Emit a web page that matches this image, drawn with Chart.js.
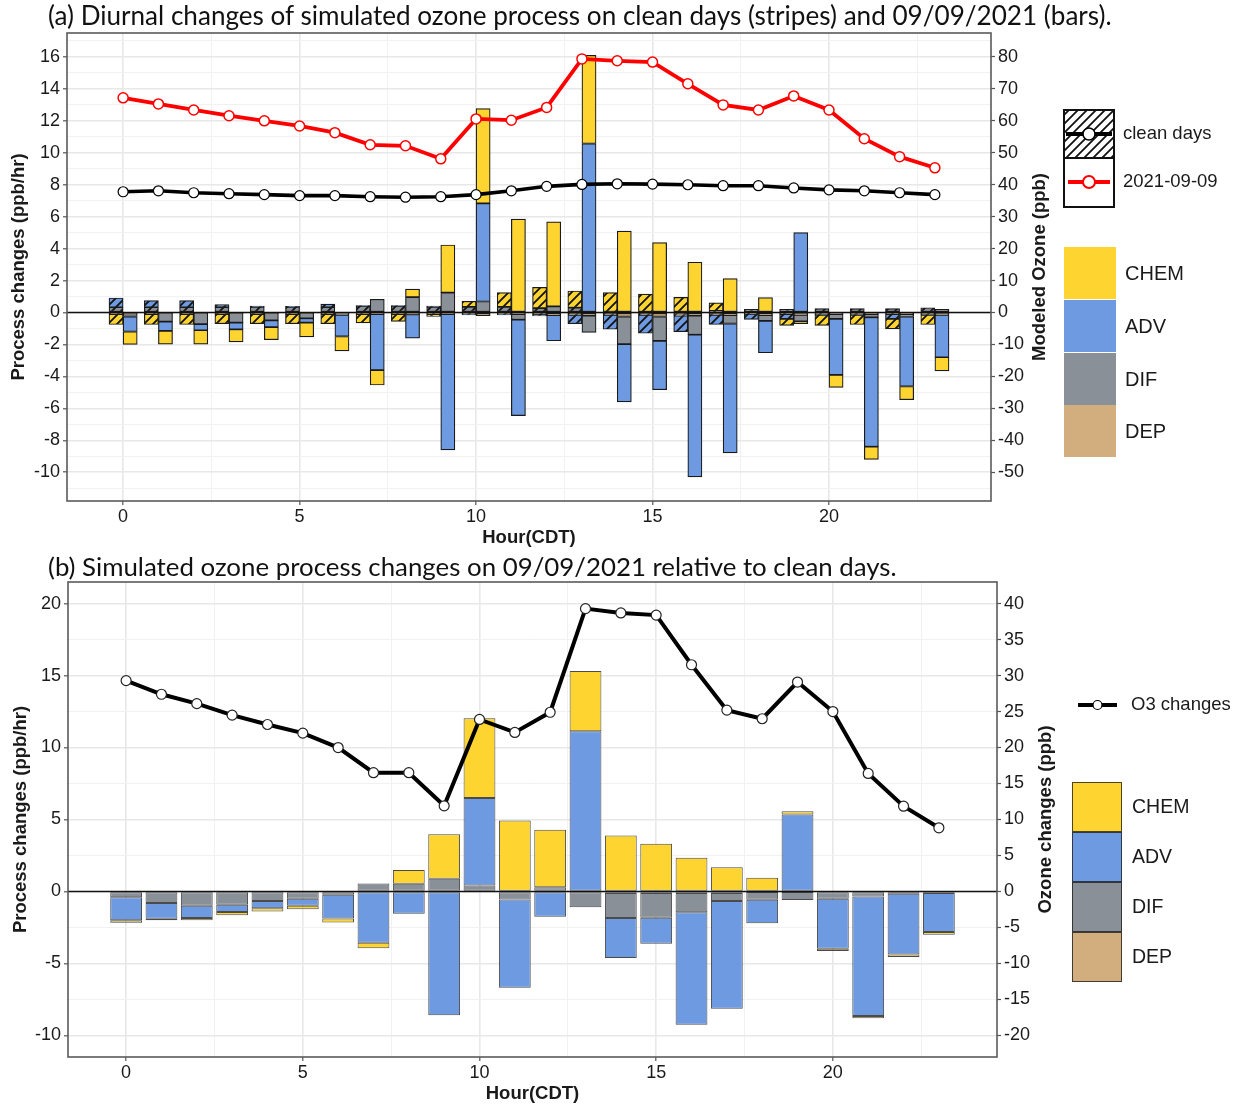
<!DOCTYPE html>
<html><head><meta charset="utf-8">
<script src="https://cdn.jsdelivr.net/npm/chart.js@4.4.1/dist/chart.umd.min.js"></script>
<style>
html,body{margin:0;padding:0;background:#fff;}
#wrap{position:relative;width:1243px;height:1105px;overflow:hidden;background:#fff;}
canvas{position:absolute;left:0;}
.ttl{position:absolute;left:48px;white-space:nowrap;font-family:Lato,'Open Sans',sans-serif;color:#111;line-height:1;}
</style></head><body>
<div id="wrap">
<canvas id="cA" width="1243" height="550" style="top:0"></canvas>
<canvas id="cB" width="1243" height="555" style="top:550px"></canvas>
<div class="ttl" id="tA">(a) Diurnal changes of simulated ozone process on clean days (stripes) and 09/09/2021 (bars).</div>
<div class="ttl" id="tB">(b) Simulated ozone process changes on 09/09/2021 relative to clean days.</div>
</div>
<script>
// ---------------- DATA ----------------
const hours = [0,1,2,3,4,5,6,7,8,9,10,11,12,13,14,15,16,17,18,19,20,21,22,23];
const components = ['CHEM','ADV','DIF','DEP'];

// Panel (a): clean days (striped bars)
const cleanCHEM = [-0.65,-0.65,-0.65,-0.6,-0.6,-0.6,-0.6,-0.55,-0.45,-0.15,0.35,0.9,1.3,1.05,1.2,1.15,0.95,0.5,0,-0.4,-0.65,-0.6,-0.62,-0.6];
const cleanADV  = [0.58,0.42,0.42,0.17,0.05,0.03,0.2,0.02,0.02,0.05,-0.05,-0.05,-0.1,-0.55,-0.9,-1.15,-1.0,-0.6,-0.35,-0.3,-0.05,-0.05,-0.3,-0.05];
const cleanDIF  = [0.33,0.33,0.33,0.33,0.35,0.35,0.33,0.42,0.42,0.35,0.35,0.35,0.27,0.3,0.05,0,-0.05,0.1,0.2,0.2,0.25,0.25,0.25,0.3];
const cleanDEP  = [-0.1,-0.1,-0.1,-0.1,-0.1,-0.1,-0.1,-0.1,-0.1,-0.1,-0.1,-0.1,-0.12,-0.15,-0.15,-0.15,-0.15,-0.15,-0.08,-0.1,-0.1,-0.1,-0.1,-0.1];

// Panel (a): 2021-09-09 (solid bars)
const eventCHEM = [-0.8,-0.83,-0.87,-0.79,-0.79,-0.9,-0.9,-0.94,0.5,2.98,5.94,5.85,5.3,5.52,5.1,4.38,3.15,2.12,0.94,-0.15,-0.79,-0.79,-0.83,-0.85];
const eventADV  = [-0.94,-0.58,-0.38,-0.42,-0.42,-0.27,-1.35,-3.5,-1.48,-8.5,6.14,-6.0,-1.6,10.58,-3.62,-3.06,-8.9,-8.1,-2.0,5.0,-3.5,-8.1,-4.38,-2.65];
const eventDIF  = [-0.2,-0.54,-0.7,-0.6,-0.46,-0.33,-0.1,0.83,0.96,1.25,0.69,-0.35,0.38,-1.04,-1.73,-1.52,-1.19,-0.52,-0.35,-0.4,-0.3,-0.2,-0.15,0.2];
const eventDEP  = [-0.05,-0.03,-0.03,-0.03,-0.03,-0.03,-0.05,-0.1,-0.12,-0.1,-0.2,-0.1,-0.17,-0.2,-0.25,-0.25,-0.2,-0.17,-0.17,-0.15,-0.1,-0.1,-0.1,-0.15];

// Panel (a): modeled ozone (ppb)
const cleanO3 = [37.8,38.1,37.5,37.2,36.9,36.6,36.6,36.25,36.1,36.25,36.9,38.1,39.5,40.1,40.3,40.2,40.0,39.7,39.7,39.0,38.4,38.1,37.5,36.9];
const eventO3 = [67.2,65.3,63.4,61.6,60.0,58.4,56.3,52.5,52.2,48.1,60.6,60.2,64.2,79.4,78.8,78.4,71.6,65.0,63.4,67.8,63.4,54.4,48.8,45.3];

// Panel (b): 09/09/2021 minus clean days
const diffCHEM = [-0.17,-0.1,-0.15,-0.23,-0.23,-0.23,-0.27,-0.38,0.97,3.1,5.54,4.93,3.98,4.19,3.89,3.31,2.34,1.69,0.95,0.23,-0.16,-0.14,-0.18,-0.18];
const diffADV  = [-1.6,-1.1,-0.85,-0.5,-0.5,-0.5,-1.65,-3.56,-1.55,-8.6,6.08,-6.13,-1.7,11.13,-2.78,-1.8,-7.82,-7.48,-1.62,5.35,-3.48,-8.31,-4.22,-2.72];
const diffDIF  = [-0.4,-0.8,-1.0,-0.93,-0.67,-0.5,-0.23,0.55,0.53,0.88,0.42,-0.56,0.3,-1.04,-1.75,-1.73,-1.34,-0.57,-0.55,-0.56,-0.5,-0.35,-0.16,-0.1];
const diffDEP  = [0,0,0,0,0,0,0,0,0,0,-0.05,0,-0.05,-0.05,-0.1,-0.1,-0.1,-0.1,-0.03,-0.03,0,0,0,0];
const diffO3   = [29.3,27.4,26.1,24.5,23.2,22.0,20.0,16.5,16.5,11.9,23.9,22.1,24.9,39.3,38.7,38.4,31.5,25.2,24.0,29.1,25.0,16.4,11.85,8.85];

// Tick labels
const hourTickLabels = [0,5,10,15,20];
const procTicksA  = [-10,-8,-6,-4,-2,0,2,4,6,8,10,12,14,16];
const ozoneTicksA = [-50,-40,-30,-20,-10,0,10,20,30,40,50,60,70,80];
const procTicksB  = [-10,-5,0,5,10,15,20];
const ozoneTicksB = [-20,-15,-10,-5,0,5,10,15,20,25,30,35,40];

// ---------------- STYLE ----------------
const COL = {CHEM:'#FED431', ADV:'#6D9AE0', DIF:'#8A9097', DEP:'#D2AE7E'};
const FONT = "'Liberation Sans', Arial, sans-serif";
Chart.defaults.font.family = FONT;
Chart.defaults.color = '#1a1a1a';

function hatch(color){
  const s = 9, c = document.createElement('canvas'); c.width = c.height = s;
  const g = c.getContext('2d');
  g.fillStyle = color; g.fillRect(0,0,s,s);
  g.strokeStyle = '#111'; g.lineWidth = 1.8;
  g.beginPath();
  g.moveTo(-1,s+1); g.lineTo(s+1,-1);
  g.moveTo(-s/2-1,s/2+1); g.lineTo(s/2+1,-s/2-1);
  g.moveTo(s/2-1,s*1.5+1); g.lineTo(s*1.5+1,s/2-1);
  g.stroke();
  return g.createPattern(c,'repeat');
}
const cleanSeries = {CHEM:cleanCHEM, ADV:cleanADV, DIF:cleanDIF, DEP:cleanDEP};
const eventSeries = {CHEM:eventCHEM, ADV:eventADV, DIF:eventDIF, DEP:eventDEP};
const diffSeries  = {CHEM:diffCHEM, ADV:diffADV, DIF:diffDIF, DEP:diffDEP};
const stackOrder = ['DEP','DIF','ADV','CHEM']; // nearest zero first
const DODGE = 0.2;

const gridMajor = '#E8E8E8', gridMinor = '#F1F1F1';
function isIn(arr, v){ return arr.some(t => Math.abs(t - v) < 1e-6); }
function gridOpts(labels){
  return {
    offset: false,
    color: c => (c.tick && isIn(labels, c.tick.value)) ? gridMajor : gridMinor,
    lineWidth: c => (c.tick && isIn(labels, c.tick.value)) ? 1.6 : 1,
    tickColor: c => (c.tick && isIn(labels, c.tick.value)) ? '#555' : 'rgba(0,0,0,0)',
    tickLength: 4, tickWidth: 1.2, drawTicks: true
  };
}
const tickFont = {size: 18, family: FONT};
const titleFont = {size: 18.5, weight: 'bold', family: FONT};

function frameAndZero(rightTitle, rightX){
  return {
    id:'frameZero',
    afterDatasetsDraw(chart){
      const {ctx, chartArea:a} = chart; const y0 = chart.scales.y.getPixelForValue(0);
      ctx.save(); ctx.strokeStyle = '#111'; ctx.lineWidth = 1.6;
      ctx.beginPath(); ctx.moveTo(a.left, y0); ctx.lineTo(a.right, y0); ctx.stroke(); ctx.restore();
    },
    afterDraw(chart){
      const {ctx, chartArea:a} = chart;
      ctx.save(); ctx.strokeStyle = '#5a5a5a'; ctx.lineWidth = 1.6;
      ctx.strokeRect(a.left, a.top, a.right - a.left, a.bottom - a.top);
      ctx.translate(rightX, (a.top + a.bottom) / 2); ctx.rotate(-Math.PI / 2);
      ctx.font = 'bold 18.5px ' + FONT; ctx.fillStyle = '#1a1a1a';
      ctx.textAlign = 'center'; ctx.textBaseline = 'middle';
      ctx.fillText(rightTitle, 0, 0);
      ctx.restore();
    }
  };
}

// ---------------- PANEL (a) ----------------
const dsA = [
  {type:'line', label:'2021-09-09', yAxisID:'y2', order:0, data: hours.map((h,i)=>({x:h, y:eventO3[i]})),
   borderColor:'#FF0000', borderWidth:3.8, pointRadius:5, pointBackgroundColor:'#fff', pointBorderColor:'#FF0000', pointBorderWidth:1.5, tension:0},
  {type:'line', label:'clean days', yAxisID:'y2', order:0, data: hours.map((h,i)=>({x:h, y:cleanO3[i]})),
   borderColor:'#000', borderWidth:3.6, pointRadius:5, pointBackgroundColor:'#fff', pointBorderColor:'#000', pointBorderWidth:1.2, tension:0}
];
stackOrder.forEach(k => dsA.push({type:'bar', label:'clean '+k, yAxisID:'y', order:1,
  data: hours.map((h,i)=>({x:h-DODGE, y:cleanSeries[k][i]})),
  backgroundColor: hatch(COL[k]), borderColor:'#1a1a1a', borderWidth:1.2, borderSkipped:false,
  categoryPercentage:1, barPercentage:1}));
stackOrder.forEach(k => dsA.push({type:'bar', label:'event '+k, yAxisID:'y', order:1,
  data: hours.map((h,i)=>({x:h+DODGE, y:eventSeries[k][i]})),
  backgroundColor: COL[k], borderColor:'#1a1a1a', borderWidth:1.2, borderSkipped:false,
  categoryPercentage:1, barPercentage:1}));

const legendA = {
  id:'legendA',
  afterDraw(chart){
    const ctx = chart.ctx; ctx.save();
    ctx.fillStyle = hatch('#ffffff'); ctx.fillRect(1064,110,50,48);
    ctx.fillStyle = '#fff'; ctx.fillRect(1064,158,50,49);
    ctx.lineWidth = 4; ctx.strokeStyle = '#000';
    ctx.beginPath(); ctx.moveTo(1066,134); ctx.lineTo(1112,134); ctx.stroke();
    ctx.beginPath(); ctx.arc(1089,134,6,0,Math.PI*2); ctx.fillStyle='#fff'; ctx.fill(); ctx.lineWidth=1.5; ctx.stroke();
    ctx.strokeStyle = '#FF0000'; ctx.lineWidth = 4;
    ctx.beginPath(); ctx.moveTo(1068,182); ctx.lineTo(1110,182); ctx.stroke();
    ctx.beginPath(); ctx.arc(1089,182,6,0,Math.PI*2); ctx.fillStyle='#fff'; ctx.fill(); ctx.lineWidth=2; ctx.stroke();
    ctx.strokeStyle = '#111'; ctx.lineWidth = 2;
    ctx.strokeRect(1064,110,50,48); ctx.strokeRect(1064,158,50,49);
    ctx.fillStyle = '#1a1a1a'; ctx.font = '18.5px ' + FONT; ctx.textBaseline = 'middle';
    ctx.fillText(chart.data.datasets[1].label, 1123, 134);
    ctx.fillText(chart.data.datasets[0].label, 1123, 182);
    const ys = [247,300,353,405];
    ctx.font = '20px ' + FONT;
    components.forEach((k,i)=>{
      ctx.fillStyle = COL[k]; ctx.fillRect(1064, ys[i], 52, 52);
      ctx.fillStyle = '#1a1a1a'; ctx.fillText(k, 1125, ys[i] + 27);
    });
    ctx.restore();
  }
};

new Chart(document.getElementById('cA'), {
  type:'bar',
  data:{datasets: dsA},
  options:{
    responsive:false, animation:false, devicePixelRatio:1,
    layout:{autoPadding:false, padding:{top:33, right:184, left:0, bottom:0}},
    plugins:{legend:{display:false}, tooltip:{enabled:false}},
    scales:{
      x:{type:'linear', stacked:true, offset:false, min:-1.59, max:24.59,
         ticks:{stepSize:2.5, includeBounds:false, autoSkip:false, maxRotation:0, font:tickFont, padding:1,
                callback:v => isIn(hourTickLabels, v) ? String(v) : ''},
         grid:gridOpts(hourTickLabels), border:{display:false},
         title:{display:true, text:'Hour(CDT)', font:titleFont, padding:{top:0,bottom:1}},
         afterFit(s){ s.height = 49; }},
      y:{type:'linear', position:'left', stacked:true, min:-11.8, max:17.5,
         ticks:{stepSize:1, includeBounds:false, autoSkip:false, font:tickFont, padding:3,
                callback:v => isIn(procTicksA, v) ? String(v) : ''},
         grid:gridOpts(procTicksA), border:{display:false},
         title:{display:true, text:'Process changes (ppb/hr)', font:titleFont, padding:{top:8,bottom:0}},
         afterFit(s){ s.width = 67; }},
      y2:{type:'linear', position:'right', min:-59, max:87.5,
         ticks:{stepSize:10, includeBounds:false, autoSkip:false, font:tickFont, padding:3,
                callback:v => isIn(ozoneTicksA, v) ? String(v) : ''},
         grid:{drawOnChartArea:false, tickColor:'#555', tickLength:4, tickWidth:1.2}, border:{display:false},
         title:{display:false},
         afterFit(s){ s.width = 68; }}
    }
  },
  plugins:[frameAndZero('Modeled Ozone (ppb)', 1040), legendA]
});

// ---------------- PANEL (b) ----------------
const dsB = [
  {type:'line', label:'O3 changes', yAxisID:'y2', order:0, data: hours.map((h,i)=>({x:h, y:diffO3[i]})),
   borderColor:'#000', borderWidth:4, pointRadius:5, pointBackgroundColor:'#fff', pointBorderColor:'#222', pointBorderWidth:1.2, tension:0}
];
stackOrder.forEach(k => dsB.push({type:'bar', label:k, yAxisID:'y', order:1,
  data: hours.map((h,i)=>({x:h, y:diffSeries[k][i]})),
  backgroundColor: COL[k], borderColor:'rgba(30,30,30,0.8)', borderWidth:1, borderSkipped:false,
  categoryPercentage:1, barPercentage:0.9}));

const legendB = {
  id:'legendB',
  afterDraw(chart){
    const ctx = chart.ctx, dy = -550; ctx.save();
    ctx.strokeStyle = '#000'; ctx.lineWidth = 4;
    ctx.beginPath(); ctx.moveTo(1078,705+dy); ctx.lineTo(1117,705+dy); ctx.stroke();
    ctx.beginPath(); ctx.arc(1097.5,705+dy,4.5,0,Math.PI*2); ctx.fillStyle='#fff'; ctx.fill(); ctx.lineWidth=1.2; ctx.stroke();
    ctx.fillStyle = '#1a1a1a'; ctx.font = '18.5px ' + FONT; ctx.textBaseline = 'middle';
    ctx.fillText(chart.data.datasets[0].label, 1131, 705+dy);
    const ys = [782,832,882,932];
    ctx.font = '19.5px ' + FONT;
    components.forEach((k,i)=>{
      ctx.fillStyle = COL[k]; ctx.fillRect(1072, ys[i]+dy, 50, 50);
      ctx.strokeStyle = 'rgba(30,30,30,0.8)'; ctx.lineWidth = 1; ctx.strokeRect(1072.5, ys[i]+dy+0.5, 49, 49);
      ctx.fillStyle = '#1a1a1a'; ctx.fillText(k, 1132, ys[i]+dy+26);
    });
    ctx.restore();
  }
};

new Chart(document.getElementById('cB'), {
  type:'bar',
  data:{datasets: dsB},
  options:{
    responsive:false, animation:false, devicePixelRatio:1,
    layout:{autoPadding:false, padding:{top:32, right:179, left:0, bottom:0}},
    plugins:{legend:{display:false}, tooltip:{enabled:false}},
    scales:{
      x:{type:'linear', stacked:true, offset:false, min:-1.645, max:24.645,
         ticks:{stepSize:2.5, includeBounds:false, autoSkip:false, maxRotation:0, font:tickFont, padding:1,
                callback:v => isIn(hourTickLabels, v) ? String(v) : ''},
         grid:gridOpts(hourTickLabels), border:{display:false},
         title:{display:true, text:'Hour(CDT)', font:titleFont, padding:{top:0,bottom:0}},
         afterFit(s){ s.height = 48; }},
      y:{type:'linear', position:'left', stacked:true, min:-11.5, max:21.5,
         ticks:{stepSize:2.5, includeBounds:false, autoSkip:false, font:tickFont, padding:3,
                callback:v => isIn(procTicksB, v) ? String(v) : ''},
         grid:gridOpts(procTicksB), border:{display:false},
         title:{display:true, text:'Process changes (ppb/hr)', font:titleFont, padding:{top:10,bottom:0}},
         afterFit(s){ s.width = 68; }},
      y2:{type:'linear', position:'right', min:-23, max:43,
         ticks:{stepSize:5, includeBounds:false, autoSkip:false, font:tickFont, padding:3,
                callback:v => isIn(ozoneTicksB, v) ? String(v) : ''},
         grid:{drawOnChartArea:false, tickColor:'#555', tickLength:4, tickWidth:1.2}, border:{display:false},
         title:{display:false},
         afterFit(s){ s.width = 67; }}
    }
  },
  plugins:[frameAndZero('Ozone changes (ppb)', 1046), legendB]
});

// ---------------- TITLES (fit to reference width) ----------------
function fitTitle(id, width, cy){
  const el = document.getElementById(id);
  el.style.fontSize = '22px';
  const w = el.getBoundingClientRect().width;
  const fs = 22 * width / w;
  el.style.fontSize = fs + 'px';
  el.style.top = (cy - fs * 0.55) + 'px';
}
fitTitle('tA', 1064, 16);
fitTitle('tB', 849, 568);
</script>
</body></html>
